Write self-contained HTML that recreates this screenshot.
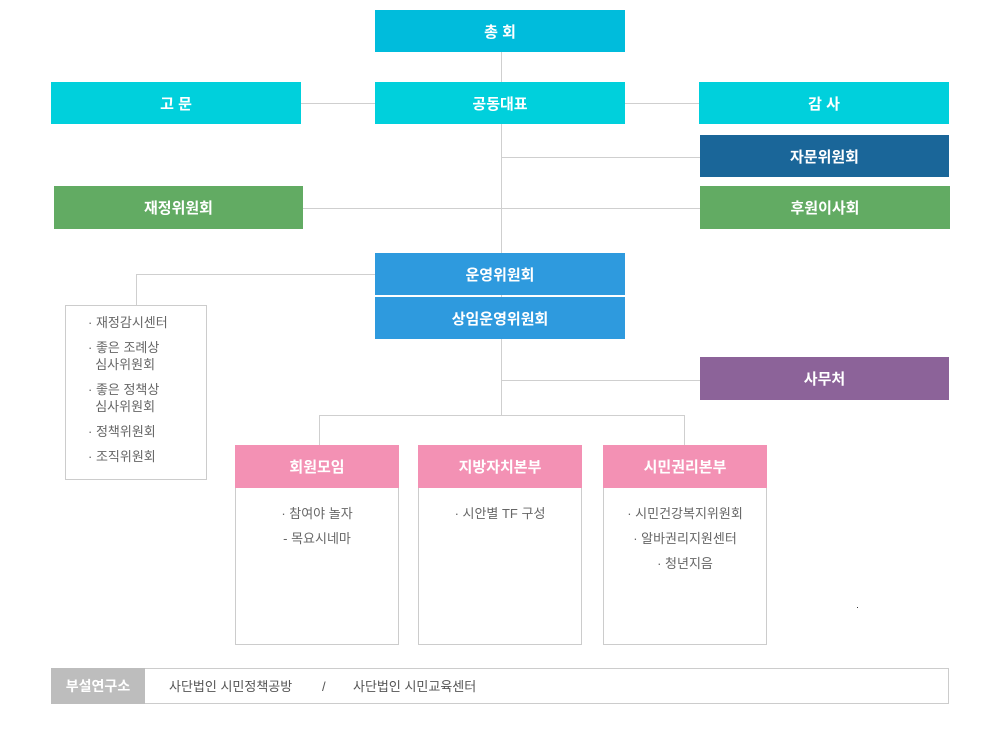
<!DOCTYPE html>
<html><head><meta charset="utf-8"><style>
body{margin:0;width:1000px;height:740px;background:#fff;position:relative;font-family:"Liberation Sans","Noto Sans CJK KR",sans-serif;overflow:hidden}
.b{position:absolute;color:#fff;font-size:15px;font-weight:bold;display:flex;align-items:center;justify-content:center}
.l{position:absolute;background:#cfcfcf}
.c{background:#00d0dc}
.box{position:absolute;border:1px solid #ccc;box-sizing:border-box;background:#fff}
.t{position:absolute;font-size:13px;color:#666;line-height:25px}
</style></head><body>
<div class="l" style="left:501px;top:52px;width:1px;height:363px"></div>
<div class="l" style="left:301px;top:103px;width:74px;height:1px"></div>
<div class="l" style="left:625px;top:103px;width:74px;height:1px"></div>
<div class="l" style="left:501px;top:157px;width:199px;height:1px"></div>
<div class="l" style="left:303px;top:208px;width:397px;height:1px"></div>
<div class="l" style="left:136px;top:274px;width:239px;height:1px"></div>
<div class="l" style="left:136px;top:274px;width:1px;height:31px"></div>
<div class="l" style="left:501px;top:380px;width:199px;height:1px"></div>
<div class="l" style="left:319px;top:415px;width:366px;height:1px"></div>
<div class="l" style="left:319px;top:415px;width:1px;height:30px"></div>
<div class="l" style="left:684px;top:415px;width:1px;height:30px"></div>

<div class="b" style="left:375px;top:10px;width:250px;height:42px;background:#00bcdc">총 회</div>
<div class="b c" style="left:51px;top:82px;width:250px;height:42px">고 문</div>
<div class="b c" style="left:375px;top:82px;width:250px;height:42px">공동대표</div>
<div class="b c" style="left:699px;top:82px;width:250px;height:42px">감 사</div>
<div class="b" style="left:700px;top:135px;width:249px;height:42px;background:#1a6699">자문위원회</div>
<div class="b" style="left:54px;top:186px;width:249px;height:43px;background:#62ab63">재정위원회</div>
<div class="b" style="left:700px;top:186px;width:250px;height:43px;background:#62ab63">후원이사회</div>
<div class="b" style="left:375px;top:253px;width:250px;height:42px;background:#2e9ade">운영위원회</div>
<div class="b" style="left:375px;top:297px;width:250px;height:42px;background:#2e9ade">상임운영위원회</div>
<div class="b" style="left:700px;top:357px;width:249px;height:43px;background:#8c6399">사무처</div>

<div class="box" style="left:65px;top:305px;width:142px;height:175px"></div>
<div class="t" style="left:88px;top:314px;line-height:17px">· 재정감시센터<br><div style="height:8px"></div>· 좋은 조례상<br>&nbsp;&nbsp;심사위원회<div style="height:8px"></div>· 좋은 정책상<br>&nbsp;&nbsp;심사위원회<div style="height:8px"></div>· 정책위원회<div style="height:8px"></div>· 조직위원회</div>

<div class="box" style="left:235px;top:445px;width:164px;height:200px"></div>
<div class="box" style="left:418px;top:445px;width:164px;height:200px"></div>
<div class="box" style="left:603px;top:445px;width:164px;height:200px"></div>
<div class="b" style="left:235px;top:445px;width:164px;height:43px;background:#f391b4">회원모임</div>
<div class="b" style="left:418px;top:445px;width:164px;height:43px;background:#f391b4">지방자치본부</div>
<div class="b" style="left:603px;top:445px;width:164px;height:43px;background:#f391b4">시민권리본부</div>
<div class="t" style="left:235px;top:501px;width:164px;text-align:center">· 참여야 놀자<br>- 목요시네마</div>
<div class="t" style="left:418px;top:501px;width:164px;text-align:center">· 시안별 TF 구성</div>
<div class="t" style="left:603px;top:501px;width:164px;text-align:center">· 시민건강복지위원회<br>· 알바권리지원센터<br>· 청년지음</div>
<div style="position:absolute;left:857px;top:607px;width:1px;height:1px;background:#333"></div>

<div class="box" style="left:51px;top:668px;width:898px;height:36px"></div>
<div class="b" style="left:51px;top:668px;width:94px;height:36px;background:#bdbdbd;font-size:14px">부설연구소</div>
<div class="t" style="left:169px;top:674px;color:#555">사단법인 시민정책공방</div>
<div class="t" style="left:322px;top:674px;color:#555">/</div>
<div class="t" style="left:353px;top:674px;color:#555">사단법인 시민교육센터</div>
</body></html>
